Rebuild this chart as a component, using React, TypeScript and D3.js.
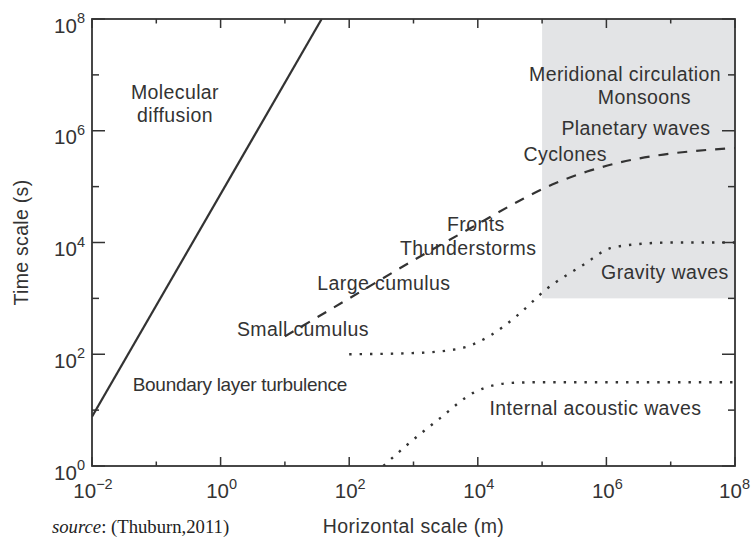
import React from "react";
import * as d3 from "d3";

const W = 751;
const H = 538;
const M = { left: 92, top: 19, right: 16, bottom: 72 };

// Data (horizontal scale m, time scale s)
const molecularDiffusion: [number, number][] = [
  [1e-2, 7.6],
  [37.3, 1e8],
];
const convectiveBranch: [number, number][] = [
  [10, 209],
  [100, 1000],
  [1e3, 4800],
  [1e4, 21400],
  [5e4, 60000],
  [1.6e5, 115000],
  [5e5, 186000],
  [1.6e6, 270000],
  [6.3e6, 363000],
  [2.5e7, 437000],
  [1e8, 490000],
];
const gravityWaves: [number, number][] = [
  [100, 100],
  [1e3, 105],
  [5e3, 125],
  [1.5e4, 210],
  [4e4, 480],
  [1.2e5, 1500],
  [4.4e5, 4000],
  [1.15e6, 7900],
  [3e6, 9300],
  [1e7, 10000],
  [1e8, 10000],
];
const acousticWaves: [number, number][] = [
  [340, 1],
  [800, 2.4],
  [2.6e3, 7.2],
  [8.5e3, 20.4],
  [1.8e4, 28],
  [4e4, 31],
  [1e5, 31.6],
  [1e8, 31.6],
];
const shadedRegion = { x0: 1e5, x1: 1e8, y0: 1e3, y1: 1e8 };

const annotations: { text: string; x: number; y: number; tight?: boolean }[] = [
  { text: "Molecular", x: 10 ** -0.71, y: 10 ** 6.57 },
  { text: "diffusion", x: 10 ** -0.71, y: 10 ** 6.15 },
  { text: "Meridional circulation", x: 10 ** 6.29, y: 10 ** 6.89 },
  { text: "Monsoons", x: 10 ** 6.59, y: 10 ** 6.47 },
  { text: "Planetary waves", x: 10 ** 6.46, y: 10 ** 5.92 },
  { text: "Cyclones", x: 10 ** 5.36, y: 10 ** 5.45 },
  { text: "Fronts", x: 10 ** 3.97, y: 10 ** 4.2 },
  { text: "Thunderstorms", x: 10 ** 3.85, y: 10 ** 3.77 },
  { text: "Large cumulus", x: 10 ** 2.54, y: 10 ** 3.15 },
  { text: "Small cumulus", x: 10 ** 1.28, y: 10 ** 2.33 },
  { text: "Boundary layer turbulence", x: 10 ** 0.3, y: 10 ** 1.35, tight: true },
  { text: "Gravity waves", x: 10 ** 6.91, y: 10 ** 3.35 },
  { text: "Internal acoustic waves", x: 10 ** 5.83, y: 10 ** 0.92 },
];

const xExponents = d3.range(-2, 9);
const yExponents = d3.range(0, 9);
const xLabelExponents = [-2, 0, 2, 4, 6, 8];
const yLabelExponents = [0, 2, 4, 6, 8];

const INK = "#333333";
const FONT = "'Liberation Sans', Arial, Helvetica, sans-serif";

const supText = (e: number) => (e < 0 ? "\u2212" + Math.abs(e) : String(e));

export default function App() {
  const x = d3.scaleLog().domain([1e-2, 1e8]).range([M.left, W - M.right]);
  const y = d3.scaleLog().domain([1, 1e8]).range([H - M.bottom, M.top]);
  const x0 = M.left,
    x1 = W - M.right,
    y0 = H - M.bottom,
    y1 = M.top;

  const lineGen = d3
    .line<[number, number]>()
    .x((d) => x(d[0]))
    .y((d) => y(d[1]))
    .curve(d3.curveMonotoneX);
  const straight = d3
    .line<[number, number]>()
    .x((d) => x(d[0]))
    .y((d) => y(d[1]));

  return (
    <svg
      width={W}
      height={H}
      style={{ position: "absolute", left: 0, top: 0, background: "#fff" }}
      fontFamily={FONT}
    >
      <defs>
        <clipPath id="plot">
          <rect x={x0} y={y1} width={x1 - x0} height={y0 - y1} />
        </clipPath>
      </defs>
      <rect
        x={x(shadedRegion.x0)}
        y={y(shadedRegion.y1)}
        width={x(shadedRegion.x1) - x(shadedRegion.x0)}
        height={y(shadedRegion.y0) - y(shadedRegion.y1)}
        fill="#e3e4e6"
      />
      <g clipPath="url(#plot)" fill="none" stroke={INK}>
        <path d={straight(molecularDiffusion) || ""} strokeWidth={2.2} />
        <path d={lineGen(convectiveBranch) || ""} strokeWidth={2.2} strokeDasharray="10,9" />
        <path d={lineGen(gravityWaves) || ""} strokeWidth={2.4} strokeDasharray="2.4,8" />
        <path d={lineGen(acousticWaves) || ""} strokeWidth={2.4} strokeDasharray="2.4,8" />
      </g>
      <g fill={INK} textAnchor="middle">
        {annotations.map((a) => (
          <text
            key={a.text}
            x={x(a.x)}
            y={y(a.y)}
            fontSize={a.tight ? 19 : 19.5}
            letterSpacing={a.tight ? -0.3 : 0.4}
          >
            {a.text}
          </text>
        ))}
      </g>
      {/* axes box */}
      <rect x={x0} y={y1} width={x1 - x0} height={y0 - y1} fill="none" stroke={INK} strokeWidth={1.8} />
      <g stroke={INK} strokeWidth={1.5}>
        {xExponents.map((e) => {
          const len = e % 2 === 0 ? 9 : 4.5;
          const px = x(10 ** e);
          return (
            <g key={"xt" + e}>
              <line x1={px} x2={px} y1={y0} y2={y0 - len} />
              <line x1={px} x2={px} y1={y1} y2={y1 + len} />
            </g>
          );
        })}
        {yExponents.map((e) => {
          const len = e % 2 === 0 ? 13 : 7;
          const py = y(10 ** e);
          return (
            <g key={"yt" + e}>
              <line x1={x0} x2={x0 + len} y1={py} y2={py} />
              <line x1={x1} x2={x1 - len} y1={py} y2={py} />
            </g>
          );
        })}
      </g>
      <g fill={INK} fontSize={20.5}>
        {xLabelExponents.map((e) => {
          const px = x(10 ** e);
          const last = px + 17 > W;
          return (
            <text
              key={"xl" + e}
              x={last ? W - 1 : px + 1}
              y={y0 + 32}
              textAnchor={last ? "end" : "middle"}
            >
              10
              <tspan fontSize={14.5} dy={-9.5}>
                {supText(e)}
              </tspan>
            </text>
          );
        })}
        {yLabelExponents.map((e) => (
          <text key={"yl" + e} x={85} y={y(10 ** e) + 13.5} textAnchor="end">
            10
            <tspan fontSize={14.5} dy={-9.5}>
              {supText(e)}
            </tspan>
          </text>
        ))}
      </g>
      <text
        x={(x0 + x1) / 2}
        y={533}
        textAnchor="middle"
        fill={INK}
        fontSize={19.5}
        letterSpacing={0.4}
      >
        Horizontal scale (m)
      </text>
      <text
        transform={`translate(28,${(y0 + y1) / 2}) rotate(-90)`}
        textAnchor="middle"
        fill={INK}
        fontSize={19.5}
        letterSpacing={0.3}
      >
        Time scale (s)
      </text>
      <text x={52} y={533} fontFamily="'Liberation Serif', 'Times New Roman', serif" fontSize={18.7} fill="#222">
        <tspan fontStyle="italic">source</tspan>: (Thuburn,2011)
      </text>
    </svg>
  );
}
